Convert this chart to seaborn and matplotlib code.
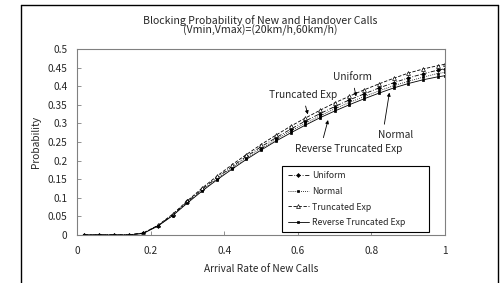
import numpy as np
import pandas as pd
import seaborn as sns
import matplotlib.pyplot as plt
from matplotlib.lines import Line2D
from matplotlib.ticker import FormatStrFormatter

# data
arrival = [0.02, 0.06, 0.10, 0.14, 0.18, 0.22, 0.26, 0.30, 0.34, 0.38, 0.42, 0.46, 0.50,
           0.54, 0.58, 0.62, 0.66, 0.70, 0.74, 0.78, 0.82, 0.86, 0.90, 0.94, 0.98, 1.00]
uniform = [0, 0, 0, 0, 0.005, 0.025, 0.054, 0.090, 0.123, 0.154, 0.183, 0.211, 0.237,
           0.261, 0.284, 0.306, 0.326, 0.345, 0.363, 0.379, 0.395, 0.409, 0.422, 0.433, 0.443, 0.447]
normal = [0, 0, 0, 0, 0.004, 0.025, 0.053, 0.088, 0.120, 0.151, 0.180, 0.207, 0.232,
          0.256, 0.279, 0.300, 0.320, 0.339, 0.356, 0.372, 0.387, 0.401, 0.413, 0.424, 0.434, 0.437]
trunc_exp = [0, 0, 0, 0, 0.005, 0.026, 0.056, 0.092, 0.126, 0.158, 0.188, 0.216, 0.243,
             0.268, 0.292, 0.314, 0.335, 0.355, 0.373, 0.390, 0.406, 0.421, 0.435, 0.446, 0.455, 0.459]
rev_trunc_exp = [0, 0, 0, 0, 0.004, 0.024, 0.052, 0.086, 0.118, 0.148, 0.176, 0.203, 0.228,
                 0.252, 0.274, 0.295, 0.315, 0.333, 0.350, 0.366, 0.381, 0.395, 0.407, 0.417, 0.425, 0.428]

series = {
    'Uniform': uniform,
    'Normal': normal,
    'Truncated Exp': trunc_exp,
    'Reverse Truncated Exp': rev_trunc_exp,
}
styles = {
    'Uniform': dict(linestyle=(0, (5, 2, 1, 2)), marker='D', markersize=2.0, markerfacecolor='black'),
    'Normal': dict(linestyle=(0, (1, 1.5)), marker='s', markersize=2.0, markerfacecolor='black'),
    'Truncated Exp': dict(linestyle=(0, (4, 2)), marker='^', markersize=2.8, markerfacecolor='white'),
    'Reverse Truncated Exp': dict(linestyle='-', marker='s', markersize=1.6, markerfacecolor='black'),
}

sns.set_theme(style='white')
plt.rcParams['font.family'] = ['Noto Sans CJK JP', 'DejaVu Sans']
plt.rcParams['font.size'] = 7

fig = plt.figure(figsize=(5.04, 2.83), dpi=100)
ax = fig.add_axes([0.153, 0.170, 0.730, 0.657])

for name, vals in series.items():
    df = pd.DataFrame({'x': arrival, 'y': vals})
    sns.lineplot(data=df, x='x', y='y', ax=ax, color='black', linewidth=0.6,
                 markeredgecolor='black', markeredgewidth=0.5, label=name, **styles[name])

ax.set_xlim(0, 1)
ax.set_ylim(0, 0.5)
ax.set_xticks(np.arange(0, 1.01, 0.2))
ax.set_yticks(np.arange(0, 0.501, 0.05))
ax.xaxis.set_major_formatter(FormatStrFormatter('%g'))
ax.yaxis.set_major_formatter(FormatStrFormatter('%g'))
ax.tick_params(direction='in', length=3, width=0.6, color='#808080', labelsize=7.3,
               bottom=True, left=True)
ax.tick_params(axis='y', pad=7)
ax.tick_params(axis='x', pad=8)
for s in ax.spines.values():
    s.set_color('#808080')
    s.set_linewidth(0.8)
ax.set_xlabel('Arrival Rate of New Calls', fontsize=7.3, labelpad=6)
ax.set_ylabel('Probability', fontsize=7.3, labelpad=5)

arrow = dict(arrowstyle='-|>', color='black', lw=0.6, mutation_scale=5)
ax.annotate('Uniform', xy=(0.76, 0.365), xytext=(0.747, 0.424), ha='center', va='center',
            fontsize=7.3, arrowprops=arrow)
ax.annotate('Truncated Exp', xy=(0.629, 0.317), xytext=(0.613, 0.376), ha='center', va='center',
            fontsize=7.3, arrowprops=arrow)
ax.annotate('Normal', xy=(0.85, 0.39), xytext=(0.866, 0.268), ha='center', va='center',
            fontsize=7.3, arrowprops=dict(arrow, relpos=(0.15, 1)))
ax.annotate('Reverse Truncated Exp', xy=(0.684, 0.316), xytext=(0.738, 0.232), ha='center', va='center',
            fontsize=7.3, arrowprops=dict(arrow, relpos=(0.25, 1)))

leg = ax.legend(loc='lower left', bbox_to_anchor=(0.546, -0.01, 0.421, 0.386), mode='expand',
                fontsize=6.3, frameon=True, fancybox=False, edgecolor='black', framealpha=1,
                handlelength=2.4, handletextpad=0.4, labelspacing=0.75, borderpad=0.6)
leg.get_frame().set_linewidth(0.8)

fig.text(0.516, 0.928, 'Blocking Probability of New and Handover Calls', ha='center', va='center', fontsize=7.6)
fig.text(0.516, 0.893, '(Vmin,Vmax)=(20km/h,60km/h)', ha='center', va='center', fontsize=7.6)

# outer chart-area border (runs off the bottom of the image)
x0, x1, yt = 0.041, 0.988, 0.982
for xs, ys in [([x0, x0], [yt, -0.1]), ([x1, x1], [yt, -0.1]), ([x0, x1], [yt, yt])]:
    fig.add_artist(Line2D(xs, ys, transform=fig.transFigure, color='black', linewidth=1.0))

fig.savefig('out.png', dpi=100)
